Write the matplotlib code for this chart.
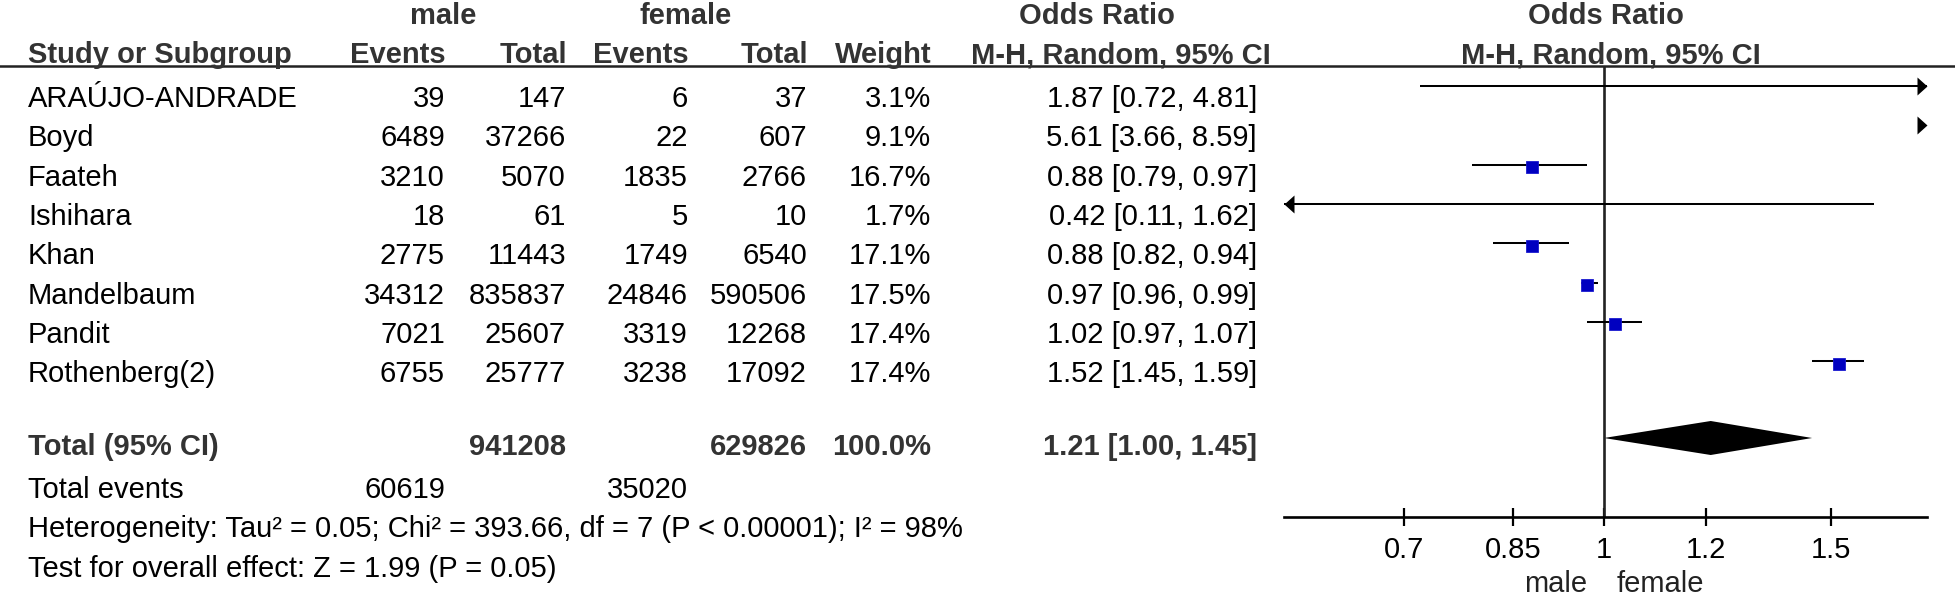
import numpy as np
import matplotlib
matplotlib.use("Agg")
import matplotlib.pyplot as plt
from matplotlib.ticker import FixedLocator, FixedFormatter, NullLocator
from matplotlib.path import Path
import matplotlib.transforms as mtransforms

# ---------------- data ----------------
studies = ["ARAÚJO-ANDRADE", "Boyd", "Faateh", "Ishihara", "Khan",
           "Mandelbaum", "Pandit", "Rothenberg(2)"]
male_events = [39, 6489, 3210, 18, 2775, 34312, 7021, 6755]
male_total = [147, 37266, 5070, 61, 11443, 835837, 25607, 25777]
female_events = [6, 22, 1835, 5, 1749, 24846, 3319, 3238]
female_total = [37, 607, 2766, 10, 6540, 590506, 12268, 17092]
weights = [3.1, 9.1, 16.7, 1.7, 17.1, 17.5, 17.4, 17.4]
or_est = [1.87, 5.61, 0.88, 0.42, 0.88, 0.97, 1.02, 1.52]
ci_low = [0.72, 3.66, 0.79, 0.11, 0.82, 0.96, 0.97, 1.45]
ci_high = [4.81, 8.59, 0.97, 1.62, 0.94, 0.99, 1.07, 1.59]

total_male = 941208
total_female = 629826
total_weight = 100.0
pooled = [1.21, 1.00, 1.45]          # estimate, low, high
events_male_sum = 60619
events_female_sum = 35020
heterogeneity = "Heterogeneity: Tau² = 0.05; Chi² = 393.66, df = 7 (P < 0.00001); I² = 98%"
overall_test = "Test for overall effect: Z = 1.99 (P = 0.05)"

tick_values = [0.7, 0.85, 1, 1.2, 1.5]
tick_labels = ["0.7", "0.85", "1", "1.2", "1.5"]
scale_limits = [0.565, 1.78]
favours = ["male", "female"]

# ---------------- layout (pixels) ----------------
W, H, DPI = 1955, 597, 100
FS = 21
FONT = "Liberation Sans"
BOLD_C = "#333333"

x_study = 28
x_me, x_mt, x_fe, x_ft, x_w = 445, 566, 688, 807, 931
x_or = 1257
row_base0, row_step = 107, 39.3
marker_shift = 21
square_drop = 2.5
y_h0, y_h1, y_rule = 24, 63, 65.5
y_total, y_events, y_het, y_test = 455, 498, 537, 577
y_diamond, diamond_half = 438, 17
y_axis = 517
fx0, fx1 = 1284, 1927

plt.rcParams["font.family"] = [FONT, "DejaVu Sans"]

fig = plt.figure(figsize=(W / DPI, H / DPI), dpi=DPI)
fig.patch.set_facecolor("white")
ax = fig.add_axes([0, 0, 1, 1])
ax.set_xlim(0, W)
ax.set_ylim(H, 0)
ax.axis("off")


def txt(x, y, s, ha="left", bold=False, color=None):
    ax.text(x, y, s, ha=ha, va="baseline", fontsize=FS,
            fontweight="bold" if bold else "normal",
            color=color if color else (BOLD_C if bold else "black"))


# headers
txt(x_me - 2, y_h0, "male", ha="center", bold=True)
txt(686, y_h0, "female", ha="center", bold=True)
txt(1097, y_h0, "Odds Ratio", ha="center", bold=True)
txt((fx0 + fx1) / 2, y_h0, "Odds Ratio", ha="center", bold=True)

txt(x_study, y_h1, "Study or Subgroup", bold=True)
txt(x_me + 1, y_h1, "Events", ha="right", bold=True)
txt(x_mt + 1, y_h1, "Total", ha="right", bold=True)
txt(x_fe + 1, y_h1, "Events", ha="right", bold=True)
txt(x_ft + 1, y_h1, "Total", ha="right", bold=True)
txt(x_w + 1, y_h1, "Weight", ha="right", bold=True)
txt(1271, y_h1, "M-H, Random, 95% CI", ha="right", bold=True)
txt((fx0 + fx1) / 2 + 5, y_h1, "M-H, Random, 95% CI", ha="center", bold=True)
ax.axhline(y_rule, color="#222222", lw=1.8)

rows_y = [row_base0 + row_step * i for i in range(len(studies))]
for i, name in enumerate(studies):
    y = rows_y[i]
    txt(x_study, y, name)
    txt(x_me, y, f"{male_events[i]}", ha="right")
    txt(x_mt, y, f"{male_total[i]}", ha="right")
    txt(x_fe, y, f"{female_events[i]}", ha="right")
    txt(x_ft, y, f"{female_total[i]}", ha="right")
    txt(x_w, y, f"{weights[i]:.1f}%", ha="right")
    txt(x_or, y, f"{or_est[i]:.2f} [{ci_low[i]:.2f}, {ci_high[i]:.2f}]", ha="right")

txt(x_study, y_total, "Total (95% CI)", bold=True)
txt(x_mt, y_total, f"{total_male}", ha="right", bold=True)
txt(x_ft, y_total, f"{total_female}", ha="right", bold=True)
txt(x_w, y_total, f"{total_weight:.1f}%", ha="right", bold=True)
txt(x_or, y_total, f"{pooled[0]:.2f} [{pooled[1]:.2f}, {pooled[2]:.2f}]", ha="right", bold=True)
txt(x_study, y_events, "Total events")
txt(x_me, y_events, f"{events_male_sum}", ha="right")
txt(x_fe, y_events, f"{events_female_sum}", ha="right")
txt(x_study, y_het, heterogeneity)
txt(x_study, y_test, overall_test)

# ---------------- forest plot ----------------
fax = fig.add_axes([fx0 / W, 0, (fx1 - fx0) / W, 1])
fax.set_xscale("log")
lo_lim, hi_lim = scale_limits
fax.set_xlim(lo_lim, hi_lim)
fax.set_ylim(H, 0)
fax.patch.set_alpha(0)
for s in ["top", "left", "right"]:
    fax.spines[s].set_visible(False)
fax.spines["bottom"].set_position(("data", y_axis))
fax.spines["bottom"].set_linewidth(1.9)
fax.yaxis.set_visible(False)
fax.xaxis.set_major_locator(FixedLocator(tick_values))
fax.xaxis.set_major_formatter(FixedFormatter(tick_labels))
fax.xaxis.set_minor_locator(NullLocator())
fax.tick_params(axis="x", direction="inout", length=13, width=1.6,
                pad=7.5, labelsize=FS, colors="black")
for lab in fax.get_xticklabels():
    lab.set_fontfamily([FONT, "DejaVu Sans"])

# reference line at OR = 1
fax.plot([1, 1], [y_rule, y_axis], color="#222222", lw=1.9, solid_capstyle="butt")

right_arrow = Path([(0, 0), (-10, 9), (-10, -9), (0, 0)],
                   [Path.MOVETO, Path.LINETO, Path.LINETO, Path.CLOSEPOLY])
left_arrow = Path([(0, 0), (10, 9), (10, -9), (0, 0)],
                  [Path.MOVETO, Path.LINETO, Path.LINETO, Path.CLOSEPOLY])
arrow_ms = 14.4

for i in range(len(studies)):
    y = rows_y[i] - marker_shift
    lo, hi, est = ci_low[i], ci_high[i], or_est[i]
    lc, hc = max(lo, lo_lim), min(hi, hi_lim)
    if lc < hc:
        fax.plot([lc, hc], [y, y], color="black", lw=1.45,
                 solid_capstyle="butt", clip_on=False)
    if hi > hi_lim:
        fax.plot([hi_lim], [y], marker=right_arrow, ms=arrow_ms, color="black",
                 mew=0, clip_on=False)
    if lo < lo_lim:
        fax.plot([lo_lim], [y], marker=left_arrow, ms=arrow_ms, color="black",
                 mew=0, clip_on=False)
    if lo_lim <= est <= hi_lim:
        ms = 8.4 * np.sqrt(weights[i] / 17.1)
        fax.plot([est], [y + square_drop], marker="s", ms=ms, color="#0000c0",
                 mec="#1a1ad0", mew=0.6, zorder=5)

# pooled diamond
est, plo, phi = pooled
fax.fill([plo, est, phi, est], [y_diamond, y_diamond - diamond_half,
                                y_diamond, y_diamond + diamond_half],
         color="black", lw=0)

# favours labels
off_l = mtransforms.offset_copy(fax.transData, fig=fig, x=-17 * 72 / DPI, y=0, units="points")
off_r = mtransforms.offset_copy(fax.transData, fig=fig, x=13 * 72 / DPI, y=0, units="points")
fax.text(1, 592, favours[0], transform=off_l, ha="right", va="baseline",
         fontsize=FS, color="#222222")
fax.text(1, 592, favours[1], transform=off_r, ha="left", va="baseline",
         fontsize=FS, color="#222222")

fig.savefig("out.png", dpi=DPI, facecolor="white")
